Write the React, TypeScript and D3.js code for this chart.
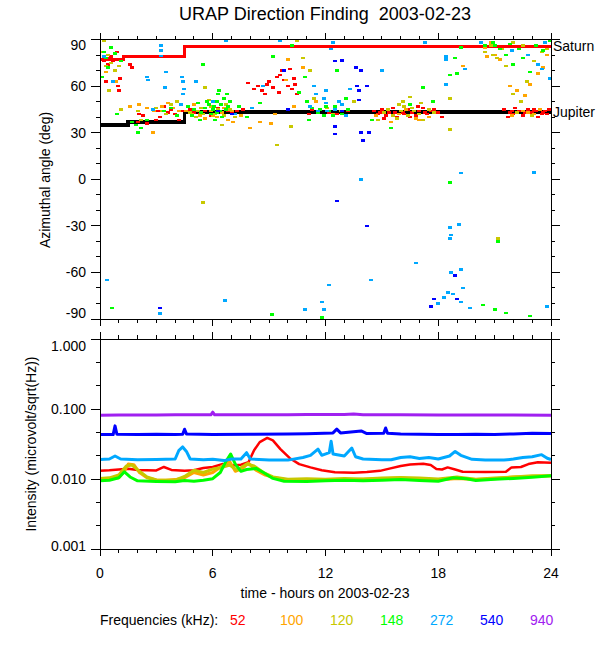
import React from "react";
import * as d3 from "d3";

// ---------- data ----------
const freqLabels = ["52", "100", "120", "148", "272", "540", "940"];
const freqColors = ["#ff0000", "#ffa500", "#c8c800", "#00ff00", "#00a8ff", "#0000ff", "#a020f0"];

const xTickHours = d3.range(0, 25, 1);
const xTickLabels = ["0", "6", "12", "18", "24"];
const angleTicks = d3.range(-90, 91, 10);
const intensityDecades = [0.001, 0.01, 0.1, 1];

// Step lines [hour, deg]
const saturnSteps: [number, number][] = [[0, 77], [1.25, 79.2], [4.5, 85.5], [24, 85.5]];
const jupiterSteps: [number, number][] = [[0, 34.8], [1.5, 36.8], [4.5, 43.2], [24, 43.2]];

// Direction finding points [hour, deg]
const df52: [number, number][] = [
  [0.2, 76], [0.35, 78], [0.5, 77], [0.7, 76], [0.9, 82], [0.3, 63], [0.95, 60], [1.0, 57], [1.05, 65], [1.6, 74], [1.7, 72], [0.6, 79], [1.2, 77], [0.45, 74],
  [2.1, 42], [2.3, 41], [2.0, 37], [2.5, 36], [3.1, 44], [3.2, 40], [3.4, 47], [3.6, 43], [3.8, 45], [4.0, 42], [4.2, 38], [3.0, 38], [4.4, 44],
  [4.6, 44], [4.8, 45], [5.0, 43], [5.3, 42], [5.6, 44], [6.8, 44], [7.0, 43], [7.3, 44], [7.6, 45], [5.9, 41], [6.3, 46],
  [7.9, 62], [8.2, 58], [8.4, 60], [8.6, 57], [8.8, 55], [9.0, 63], [9.2, 59], [9.4, 66], [9.6, 67], [9.8, 64], [10.0, 60], [10.2, 58], [10.4, 61], [10.5, 55], [9.7, 70], [10.1, 71], [8.9, 61], [9.5, 56], [10.3, 65],
  [11.1, 42], [11.3, 45], [12.2, 43], [12.6, 42], [13.2, 44],
  [14.6, 44], [14.8, 42], [15.0, 45], [15.2, 41], [15.4, 43], [15.6, 46], [15.8, 40], [16.0, 44], [16.2, 42], [16.4, 45], [16.6, 43], [16.8, 41], [17.0, 44], [17.2, 46], [17.4, 42], [17.6, 44], [17.8, 45], [18.0, 43], [18.2, 40], [16.9, 47], [15.1, 39],
  [16.1, 43], [16.5, 40], [17.3, 43], [15.7, 43], [14.9, 43],
  [21.5, 45], [21.8, 43], [22.0, 42], [22.3, 44], [22.5, 41], [22.8, 45], [23.0, 43], [23.2, 44], [23.5, 42], [23.7, 44], [23.9, 45], [22.1, 46], [23.3, 40], [21.7, 40],
  [22.6, 43], [23.1, 45], [23.6, 43], [23.8, 42], [21.9, 44],
];
const df100: [number, number][] = [
  [0.3, 69], [0.85, 63], [1.6, 47], [2.1, 48], [2.5, 46], [2.9, 44], [2.83, 30], [3.3, 47], [3.6, 49], [3.9, 46], [4.2, 44], [4.6, 44], [5.0, 48], [5.3, 41], [5.6, 39], [5.9, 44], [6.2, 40], [6.5, 43], [6.8, 38], [7.1, 37], [7.5, 41], [8.0, 33], [8.5, 37], [9.1, 36], [9.3, 42], [10.0, 77], [9.9, 64], [10.3, 47], [10.8, 72], [11.5, 50], [12.4, 42], [14.7, 41], [15.5, 37], [16.3, 45], [17.0, 38], [17.5, 40], [19.3, 73], [20.5, 85], [21.0, 80], [21.3, 77], [21.8, 60], [22.2, 57], [22.6, 54], [22.9, 61], [23.3, 68], [23.6, 72], [23.8, 80], [21.9, 41], [22.5, 44], [23.1, 42], [20.8, 88],
  [4.9, 42], [5.4, 46], [6.0, 41], [6.6, 46], [7.0, 44], [15.9, 42], [16.8, 39], [22.8, 43], [23.4, 45], [20.6, 79],
];
const df120: [number, number][] = [
  [0.2, 89], [0.15, 82], [0.4, 80], [0.6, 75], [0.3, 73], [0.8, 70], [1.0, 73], [0.5, 57], [1.1, 45], [2.0, 44], [2.2, 38], [3.0, 46], [3.3, 44], [3.5, 42], [3.8, 48], [4.1, 50], [4.8, 43], [5.1, 40], [5.4, 46], [5.6, 59], [5.8, 51], [6.1, 42], [6.3, 45], [6.5, 35], [6.7, 48], [7.2, 40], [9.4, 22], [10.15, 34], [10.5, 89], [5.46, -15], [10.8, 78], [11.2, 70], [11.4, 52], [12.1, 46], [12.8, 44], [13.5, 50], [14.8, 38], [15.3, 45], [15.9, 48], [16.4, 41], [16.7, 44], [17.2, 38], [17.8, 43], [18.6, 32], [18.6, 52], [20.5, 82], [20.8, 86], [21.1, 78], [21.4, 84], [21.6, 73], [22.0, 55], [22.4, 50], [22.7, 63], [23.1, 76], [23.5, 82], [23.8, 84], [22.2, 43], [23.0, 41], [21.2, -38],
  [5.2, 44], [5.5, 42], [5.9, 47], [6.2, 43], [6.6, 41], [6.9, 45], [15.1, 43], [15.6, 41], [16.0, 44], [16.2, 47], [16.6, 46], [17.0, 42], [17.5, 45], [16.1, 50], [16.5, 53], [17.1, 49], [15.8, 39], [22.0, 88], [22.5, 86], [20.9, 80],
];
const df148: [number, number][] = [
  [0.1, 66], [0.2, 82], [0.3, 78], [0.45, 72], [0.6, 85], [0.8, 81], [1.1, 76], [0.9, 42], [0.64, -83], [1.7, 37], [1.9, 35], [2.0, 30], [2.2, 33], [2.5, 38], [3.4, 44], [3.8, 46], [4.1, 41], [5.5, 74], [5.6, 46], [5.8, 48], [6.0, 45], [6.2, 50], [6.4, 44], [6.6, 52], [6.8, 47], [5.9, 42], [6.1, 38], [6.3, 55], [7.4, 47], [7.8, 40], [8.5, 49], [9.17, -87], [9.2, 79], [10.24, 86], [10.6, 56], [11.0, 50], [11.3, 46], [11.6, 43], [11.9, 41], [11.1, 38], [12.2, 44], [12.5, 47], [12.9, 42], [13.2, 45], [10.9, 66], [14.5, 38], [15.5, 33], [16.5, 48], [17.2, 59], [18.6, -2], [18.6, 67], [19.0, 68], [18.9, 78], [19.2, 85], [20.4, -81], [21.0, -84], [21.6, -86], [22.9, -88], [21.2, -40], [20.5, 86], [20.9, 88], [21.3, 84], [21.6, 80], [22.0, 74], [22.5, 78], [22.9, 69], [23.2, 86], [23.6, 83], [23.95, 89], [11.8, -89], [12.6, 70], [13.1, 52], [17.7, 50],
  [4.7, 47], [5.0, 45], [5.2, 49], [5.4, 43], [5.7, 50], [6.05, 47], [6.25, 43], [6.45, 48], [6.7, 45], [6.9, 50], [6.5, 40], [5.3, 38], [6.75, 55], [6.35, 57], [4.9, 41], [12.0, 47], [11.7, 45], [12.4, 41], [21.0, 86], [21.8, 87], [22.3, 84],
];
const df272: [number, number][] = [
  [0.35, -65], [0.2, 79], [0.71, 63], [2.49, 66], [2.55, 64], [3.26, 86], [3.26, 83], [3.26, 79.5], [3.5, 69], [3.44, 59], [4.4, 63], [4.45, 58], [4.4, 55], [4.35, 66], [3.2, -86.5], [5.1, 63], [6.65, -78], [6.7, 89], [9.6, 89], [2.8, 45], [4.3, 48], [6.0, 50], [7.2, 42], [8.7, 60], [8.1, 46], [10.9, -84], [11.9, -84], [11.8, -79], [12.2, -68], [13.9, 0], [14.4, -65], [16.8, -54], [18.6, -31], [19.1, -29], [19.2, 4], [23.1, 4.5], [18.6, -38], [18.7, -36], [18.7, -60], [19.2, -58], [19.3, -70], [18.5, -73], [18.3, -76], [18.8, -74], [19.2, -79], [18.0, -80], [19.7, -83], [23.8, -82], [18.4, 79], [18.4, 77], [19.4, 71], [18.4, 61], [12.3, 84], [11.5, 55], [11.9, 52], [12.7, 50], [13.3, 58], [12.1, 44], [12.4, 88], [20.3, 88], [21.9, 83], [22.8, 80], [23.3, 74], [23.5, 71], [23.7, 88], [23.95, 65], [17.3, 88], [15.0, 70],
  [11.2, 47], [11.6, 44], [12.0, 49], [12.5, 45], [12.9, 48], [13.1, 41], [11.4, 60], [12.0, 57],
];
const df540: [number, number][] = [
  [3.2, -83], [9.8, 70], [12.5, 76], [12.86, 76.5], [13.6, 72], [13.9, 70], [13.7, 60], [13.8, 57], [13.8, 51], [14.2, 60], [12.5, 34], [12.5, 29], [14.0, 25], [13.9, 30], [14.3, 30], [12.6, -14], [14.2, -30], [17.8, -77], [17.6, -82], [19.0, -77], [6.3, 44], [7.0, 42], [12.9, 44], [10.0, 45], [18.9, -62],
];
const dfSeries = [df52, df100, df120, df148, df272, df540];

// Intensity [hour, microvolt/sqrt(Hz)]
const int52: [number, number][] = [
  [0, 0.0133], [0.5, 0.0135], [1, 0.0138], [1.5, 0.0142], [2, 0.0136], [3, 0.0134], [3.4, 0.015], [3.8, 0.0136], [4.5, 0.0133], [5, 0.0135], [5.5, 0.0145], [6, 0.015], [6.5, 0.0165], [7, 0.0158], [7.5, 0.0162], [7.9, 0.0175], [8.2, 0.026], [8.5, 0.034], [8.9, 0.039], [9.2, 0.036], [9.6, 0.027], [10.1, 0.020], [10.6, 0.0165], [11.2, 0.0148], [11.8, 0.0135], [12.5, 0.0126], [13.5, 0.0124], [14.2, 0.0127], [14.9, 0.0132], [15.4, 0.0142], [16, 0.0155], [16.5, 0.0163], [17.2, 0.0167], [17.6, 0.016], [17.9, 0.014], [18.2, 0.0138], [18.5, 0.0148], [18.9, 0.0138], [19.3, 0.0128], [20.5, 0.0127], [21.6, 0.0128], [21.9, 0.0148], [22.4, 0.015], [22.8, 0.0165], [23.3, 0.0175], [24, 0.0172],
];
const int100: [number, number][] = [
  [0, 0.0100], [0.5, 0.0102], [1, 0.0105], [1.3, 0.013], [1.5, 0.0165], [1.8, 0.0162], [2.1, 0.0125], [2.5, 0.0105], [3, 0.0098], [3.5, 0.0097], [4, 0.0099], [4.5, 0.0105], [5, 0.0125], [5.5, 0.0115], [6, 0.0125], [6.5, 0.0155], [6.9, 0.018], [7.2, 0.013], [7.6, 0.0145], [7.9, 0.017], [8.3, 0.0135], [8.8, 0.0115], [9.3, 0.0105], [10, 0.0098], [11, 0.0097], [12, 0.0097], [13, 0.0098], [14, 0.0100], [15, 0.0102], [16, 0.0104], [17, 0.0100], [18, 0.0098], [19, 0.0103], [20, 0.0099], [21, 0.0102], [22, 0.0108], [23, 0.0110], [24, 0.0112],
];
const int120: [number, number][] = [
  [0, 0.0103], [0.5, 0.0105], [1, 0.0115], [1.4, 0.0155], [1.7, 0.016], [2.1, 0.013], [2.5, 0.0108], [3, 0.0098], [4, 0.0097], [4.5, 0.011], [5, 0.0135], [5.5, 0.0125], [6, 0.014], [6.5, 0.0148], [6.9, 0.016], [7.3, 0.0135], [7.8, 0.0165], [8.2, 0.0155], [8.7, 0.0125], [9.2, 0.0108], [10, 0.0100], [11, 0.0102], [12, 0.0100], [13, 0.0103], [14, 0.0101], [15, 0.0104], [16, 0.0106], [17, 0.0104], [18, 0.0101], [19, 0.0108], [20, 0.0100], [21, 0.0104], [22, 0.0108], [23, 0.0112], [24, 0.0112],
];
const int148: [number, number][] = [
  [0, 0.0095], [0.5, 0.0097], [1, 0.0105], [1.3, 0.0128], [1.6, 0.0108], [2, 0.0095], [3, 0.0093], [4, 0.0092], [4.5, 0.0096], [5, 0.0094], [5.5, 0.0097], [6, 0.0102], [6.4, 0.0125], [6.7, 0.018], [6.95, 0.023], [7.2, 0.0165], [7.5, 0.013], [7.8, 0.0138], [8.3, 0.0143], [8.7, 0.0125], [9.2, 0.0103], [9.8, 0.0094], [11, 0.0093], [12, 0.0095], [13, 0.0097], [14, 0.0095], [15, 0.0097], [16, 0.0099], [17, 0.0096], [18, 0.0094], [18.8, 0.0105], [19.5, 0.0102], [20, 0.0096], [21, 0.0100], [22, 0.0103], [23, 0.0107], [24, 0.0112],
];
const int272: [number, number][] = [
  [0, 0.0192], [0.5, 0.0195], [0.8, 0.0215], [1.1, 0.0195], [2, 0.0190], [3, 0.0192], [4, 0.0195], [4.2, 0.026], [4.4, 0.029], [4.6, 0.025], [4.8, 0.0195], [5.5, 0.0190], [6, 0.0193], [6.6, 0.0185], [7, 0.0195], [7.5, 0.0195], [7.8, 0.024], [8.0, 0.0195], [9, 0.0188], [10, 0.0188], [10.8, 0.0205], [11.2, 0.022], [11.6, 0.027], [11.8, 0.022], [12.2, 0.024], [12.3, 0.035], [12.4, 0.023], [13, 0.0215], [13.4, 0.028], [13.6, 0.021], [14, 0.0195], [15, 0.0190], [15.5, 0.019], [16, 0.0205], [16.5, 0.021], [17, 0.0198], [17.5, 0.0205], [18, 0.0195], [18.6, 0.0215], [18.9, 0.025], [19.2, 0.022], [19.8, 0.0193], [20.5, 0.0188], [21.5, 0.0188], [22, 0.0195], [22.5, 0.0205], [23, 0.021], [23.5, 0.0225], [23.8, 0.020], [24, 0.0192],
];
const int540: [number, number][] = [
  [0, 0.0435], [0.7, 0.0435], [0.8, 0.058], [0.9, 0.0440], [2, 0.0435], [3, 0.044], [4, 0.0435], [4.4, 0.044], [4.5, 0.052], [4.6, 0.0445], [6, 0.0438], [8, 0.0440], [10, 0.0445], [11, 0.0448], [12.4, 0.046], [12.6, 0.052], [12.8, 0.046], [13.9, 0.049], [14.2, 0.045], [15.1, 0.0455], [15.2, 0.054], [15.3, 0.0455], [16, 0.0445], [17, 0.044], [18, 0.0435], [19, 0.0435], [20, 0.044], [21, 0.0435], [22, 0.0445], [23, 0.0455], [24, 0.045],
];
const int940: [number, number][] = [
  [0, 0.0825], [1, 0.083], [2, 0.0828], [3, 0.083], [4, 0.0835], [5, 0.0838], [5.9, 0.0835], [6, 0.091], [6.1, 0.0835], [8, 0.0835], [10, 0.0838], [11, 0.0845], [12, 0.0840], [13, 0.084], [13.5, 0.086], [14, 0.0838], [16, 0.0835], [18, 0.0832], [20, 0.083], [22, 0.083], [24, 0.0825],
];
const intSeries = [int52, int100, int120, int148, int272, int540, int940];

// ---------- layout ----------
const FONT = "Liberation Sans, Arial, Helvetica, sans-serif";

export default function App() {
  const x = d3.scaleLinear().domain([0, 24]).range([100, 551]);
  const yA = d3.scaleLinear().domain([-90, 90]).range([319, 39.5]);
  const yI = d3.scaleLog().domain([0.001, 1]).range([549.3, 339.3]);

  const stepLine = d3
    .line<[number, number]>()
    .x((d) => x(d[0]))
    .y((d) => yA(d[1]))
    .curve(d3.curveStepAfter);
  const intLine = d3
    .line<[number, number]>()
    .x((d) => x(d[0]))
    .y((d) => yI(d[1]));

  const minorI: number[] = [];
  intensityDecades.slice(1).forEach((d) => {
    minorI.push(d * Math.pow(10, -1 / 3), d * Math.pow(10, -2 / 3));
  });

  const xTicks = (yTopEdge: number, yBotEdge: number, key: string) =>
    xTickHours.map((h) => {
      const len = h % 6 === 0 ? 7 : 4;
      return (
        <g key={key + h}>
          <line x1={x(h)} x2={x(h)} y1={yTopEdge} y2={yTopEdge - len} stroke="#000" />
          <line x1={x(h)} x2={x(h)} y1={yBotEdge} y2={yBotEdge + len} stroke="#000" />
        </g>
      );
    });

  const x0 = x(0), x1 = x(24);

  return (
    <svg
      width={600}
      height={650}
      style={{ position: "absolute", left: 0, top: 0, background: "#fff" }}
      fontFamily={FONT}
    >
      <rect width={600} height={650} fill="#fff" />
      <text x={325} y={20} fontSize={18} textAnchor="middle" style={{ whiteSpace: "pre" }}>
        {"URAP Direction Finding  2003-02-23"}
      </text>

      {/* ---------- top panel ---------- */}
      <g shapeRendering="crispEdges">
        <path d={stepLine(saturnSteps) || ""} fill="none" stroke="#ff0000" strokeWidth={3.5} />
        <path d={stepLine(jupiterSteps) || ""} fill="none" stroke="#000" strokeWidth={3.5} />
        {dfSeries.map((pts, si) =>
          pts.map((p, i) => (
            <rect
              key={"p" + si + "_" + i}
              x={x(p[0]) - 2}
              y={yA(p[1]) - 1.25}
              width={4}
              height={2.5}
              fill={freqColors[si]}
            />
          ))
        )}
        <rect x={x0} y={yA(90)} width={x1 - x0} height={yA(-90) - yA(90)} fill="none" stroke="#000" />
        {angleTicks.map((v) => {
          const len = v % 30 === 0 ? 9 : 4;
          return (
            <g key={"a" + v}>
              <line x1={x0} x2={x0 - len} y1={yA(v)} y2={yA(v)} stroke="#000" />
              <line x1={x1} x2={x1 + len} y1={yA(v)} y2={yA(v)} stroke="#000" />
            </g>
          );
        })}
        {xTicks(yA(90), yA(-90), "tx")}
      </g>
      {angleTicks
        .filter((v) => v % 30 === 0)
        .map((v) => (
          <text key={"al" + v} x={86} y={Math.min(313, Math.max(45, yA(v))) + 5} fontSize={14} textAnchor="end">
            {String(v)}
          </text>
        ))}
      <text x={553} y={51} fontSize={14}>Saturn</text>
      <text x={553} y={yA(43.2) + 5} fontSize={14}>Jupiter</text>
      <text transform="translate(50,180) rotate(-90)" fontSize={14} textAnchor="middle">
        Azimuthal angle (deg)
      </text>

      {/* ---------- bottom panel ---------- */}
      <g>
        {intSeries.map((s, i) => (
          <path
            key={"l" + i}
            d={intLine(s) || ""}
            fill="none"
            stroke={freqColors[i]}
            strokeWidth={i === 0 ? 2.5 : 3}
            strokeLinejoin="round"
          />
        ))}
      </g>
      <g shapeRendering="crispEdges">
        <rect x={x0} y={yI(1)} width={x1 - x0} height={yI(0.001) - yI(1)} fill="none" stroke="#000" />
        {intensityDecades.map((v) => (
          <g key={"d" + v}>
            <line x1={x0} x2={x0 - 9} y1={yI(v)} y2={yI(v)} stroke="#000" />
            <line x1={x1} x2={x1 + 9} y1={yI(v)} y2={yI(v)} stroke="#000" />
          </g>
        ))}
        {minorI.map((v, i) => (
          <g key={"m" + i}>
            <line x1={x0} x2={x0 - 4} y1={yI(v)} y2={yI(v)} stroke="#000" />
            <line x1={x1} x2={x1 + 4} y1={yI(v)} y2={yI(v)} stroke="#000" />
          </g>
        ))}
        {xTicks(yI(1), yI(0.001), "bx")}
      </g>
      {intensityDecades.map((v) => (
        <text key={"il" + v} x={86} y={Math.min(545.5, Math.max(346, yI(v))) + 5} fontSize={14} textAnchor="end">
          {d3.format(".3f")(v)}
        </text>
      ))}
      <text transform="translate(36,444) rotate(-90)" fontSize={14} textAnchor="middle">
        Intensity (microvolt/sqrt(Hz))
      </text>
      {xTickLabels.map((t) => (
        <text key={"xl" + t} x={x(+t)} y={578} fontSize={14} textAnchor="middle">
          {t}
        </text>
      ))}
      <text x={325} y={598} fontSize={14} textAnchor="middle">
        time - hours on 2003-02-23
      </text>

      {/* ---------- legend ---------- */}
      <text x={100} y={625} fontSize={14}>Frequencies (kHz):</text>
      {freqLabels.map((f, i) => (
        <text key={"f" + f} x={230 + i * 50} y={625} fontSize={14} fill={freqColors[i]}>
          {f}
        </text>
      ))}
    </svg>
  );
}
